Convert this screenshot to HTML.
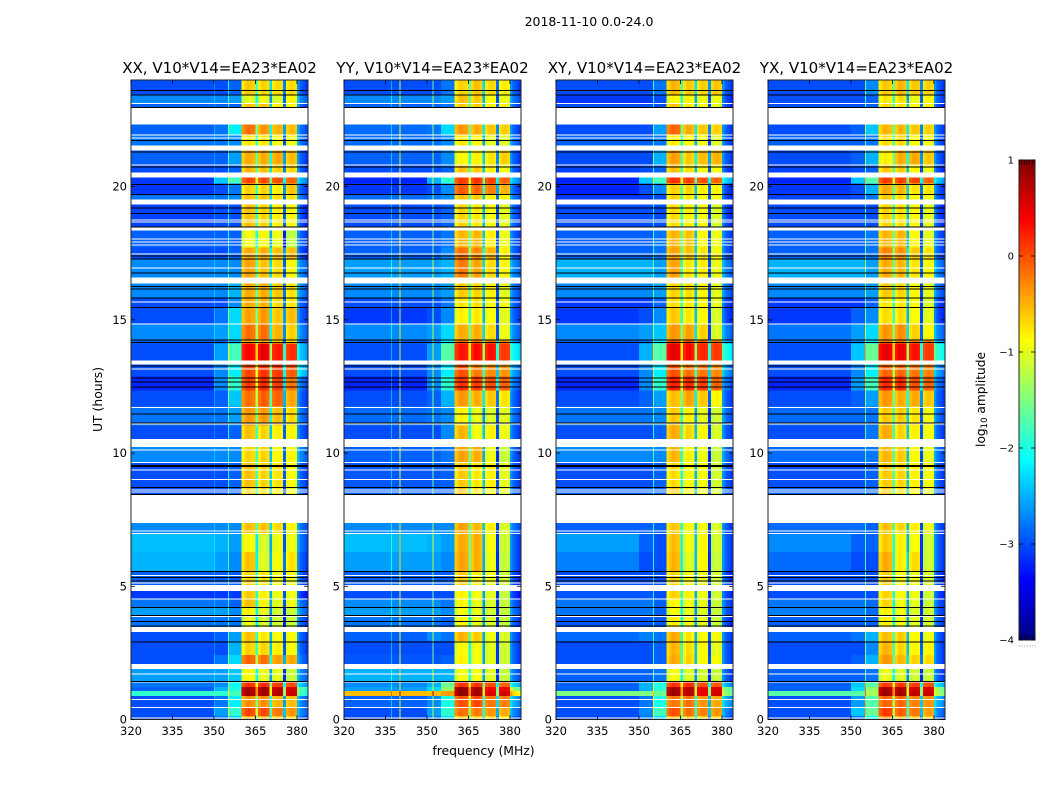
<!DOCTYPE html>
<html lang="en">
<head>
<meta charset="utf-8">
<title>2018-11-10 0.0-24.0</title>
<style>
html,body{margin:0;padding:0;background:#fff;}
svg{display:block;font-family:"DejaVu Sans","Liberation Sans",sans-serif;fill:#000;}
</style>
</head>
<body>
<svg id="chart" xmlns="http://www.w3.org/2000/svg" width="1050" height="800" viewBox="0 0 1050 800">
<rect x="0" y="0" width="1050" height="800" fill="#fff"/>
<text x="589" y="26" font-size="12.500" text-anchor="middle">2018-11-10 0.0-24.0</text>
<text x="483.500" y="755" font-size="12.400" text-anchor="middle">frequency (MHz)</text>
<text x="0" y="0" font-size="12.400" text-anchor="middle" transform="translate(102,399.500) rotate(-90)">UT (hours)</text>
<text x="0" y="0" font-size="12.200" text-anchor="middle" transform="translate(985,399.500) rotate(-90)">log<tspan font-size="8.500" dy="2">10</tspan><tspan dy="-2"> amplitude</tspan></text>
<g id="panels"></g>
<g id="colorbar"></g>
</svg>
<script>
// ---------- shared axes data ----------
const xTicks = [320, 335, 350, 365, 380];
const yTicks = [0, 5, 10, 15, 20];
const colorbarTicks = [1, 0, -1, -2, -3, -4];
const colorbarMinorTicks = [0, 1, 2, 3, 4, 5, 6];

// UT hour boundaries of the time bands (top to bottom)
const utBandEdges = [24,23.45,23.12,22.33,21.95,21.35,20.83,20.34,20.12,19.70,19.33,18.35,17.72,17.30,16.37,15.84,15.47,14.87,14.27,14.12,13.33,12.88,12.35,11.75,11.04,10.25,9.66,8.72,7.37,6.96,6.28,5.57,4.82,4.52,4.22,3.92,3.28,2.94,2.42,1.89,1.41,1.22,1.07,0.88,0.47,0.13,0];

// Flagged (blank) UT ranges, and single-row flagged / saturated lines
const blankBandStart = [22.97,21.54,20.53,19.52,18.47,16.59,13.48,10.52,8.46,5.04,3.47,2.08];
const blankBandEnd = [22.33,21.35,20.34,19.33,18.35,16.37,13.33,10.25,7.37,4.82,3.28,1.89];
const whiteLines = [23.13,21.95,21.85,20.83,18.77,18.69,18.05,17.94,17.83,17.49,16.97,15.69,14.86,13.18,11.73,11.10,10.27,10.14,9.66,9.39,9.03,8.64,8.56,7.10,6.99,5.42,5.14,4.54,3.89,3.47,3.36,1.73,1.42,0.76,0.46,0.08];
const blackLines = [23.63,23.45,22.99,21.75,21.32,20.76,20.10,19.73,19.22,19.0,18.5,17.42,17.30,16.78,16.27,16.18,15.84,15.48,14.27,14.16,13.29,12.84,12.69,12.5,11.48,11.15,9.55,9.52,8.72,8.46,5.58,5.34,5.21,4.22,3.93,3.70,3.53,2.93,1.45];

// Channel offset (log10) across the 64 one-MHz channels, 320..383 MHz
const bandpass = [0,0,0,0,0,0,0,0,0,0,0,0,0,0,0,0,0,0,0,0,0,0,0,0,0,0,0,0,0,0,0,0,0,0,0,0,0,0,0,0,
  -0.25,-0.1,-0.03,-0.08,-0.12,-1.2,-0.2,-0.05,-0.05,-0.15,-1.7,-0.2,-0.1,-0.08,-0.15,-2.2,-0.25,-0.15,-0.12,-0.2,
  0.35,0.1,0,-0.1];

// Values per band: [320-350, 350-355, 355-360, 360-365, 365-370, 370-375, 375-380, 380-384 MHz]
const xxRows = [
[-3,-3,-2.9,-.55,-.6,-.6,-.55,-3],[-2.7,-2.7,-2.6,-.95,-.85,-.95,-.7,-2.8],[-2.9,-2.9,-2.9,-.5,-.5,-.7,-.7,-3],
[-2.9,-2.8,-2.2,-.1,-.3,-.4,-.4,-2.9],[-2.8,-2.8,-2.7,-.7,-.7,-.8,-.8,-2.9],[-2.9,-2.9,-2.6,-.4,-.4,-.35,-.4,-3],
[-3,-3,-2.9,-.45,-.5,-.55,-.55,-3],[-3.1,-2.4,-1.8,.1,.1,.1,.05,-2.6],[-3.1,-3,-2.8,-.6,-.6,-.7,-.45,-3],
[-2.8,-2.8,-2.7,-.5,-.5,-.6,-.6,-2.9],[-3.05,-3,-3,-.5,-.6,-.7,-.7,-3.1],[-2.9,-2.9,-2.9,-.85,-.8,-.85,-1.05,-3],
[-3,-3,-2.9,-.4,-.4,-.45,-.4,-3.1],[-2.7,-2.7,-2.7,-.35,-.5,-.6,-.7,-2.8],[-2.7,-2.7,-2.5,-.4,-.4,-.5,-.6,-2.8],
[-3,-3,-2.7,-.4,-.4,-.6,-.6,-3],[-3,-2.8,-2.3,-.35,-.3,-.5,-.4,-3],[-2.7,-2.6,-2.3,-.1,-.1,-.4,-.5,-2.8],
[-2.9,-2.9,-2.5,-.4,-.4,-.5,-.6,-2.9],[-3,-2.6,-1.8,.45,.55,.35,.3,-2.5],[-3,-2.7,-2.2,.1,.2,.2,.1,-2.4],
[-3.2,-2.7,-1.9,.15,.25,.2,-.05,-2.9],[-3,-2.9,-2.4,-.1,0,0,-.3,-3],[-2.8,-2.8,-2.6,-.3,-.3,-.45,-.55,-2.9],
[-3,-3,-2.9,-.5,-.6,-.7,-.7,-3],[-2.7,-2.7,-2.7,-.6,-.6,-.75,-.7,-2.8],[-3,-3,-2.9,-.5,-.6,-.65,-.75,-3],
[-3,-3,-2.9,-.6,-.65,-.7,-.8,-3],[-2.7,-2.7,-2.7,-.5,-.5,-.6,-.7,-2.9],[-2.45,-2.5,-2.6,-.8,-1,-.85,-.8,-2.9],
[-2.5,-2.6,-2.7,-.5,-.95,-.8,-.6,-3],[-2.9,-2.9,-2.9,-.6,-.7,-.8,-.8,-3],[-3.1,-3.1,-3.1,-.55,-.75,-.85,-.8,-3.2],
[-2.8,-2.8,-2.9,-.5,-.8,-.9,-.8,-2.9],[-2.6,-2.6,-2.7,-.75,-.9,-1,-1,-2.8],[-2.8,-2.8,-2.8,-.9,-1,-1,-1,-3],
[-3,-2.9,-2.6,-.5,-.7,-.8,-.75,-3],[-3,-3,-2.5,-.6,-.6,-.7,-.75,-3],[-3,-2.8,-2.3,-.05,-.1,-.3,-.3,-2.9],
[-2.6,-2.6,-2.4,-.8,-.9,-.9,-1,-2.8],[-2.8,-2.7,-2.1,.2,.25,.2,.15,-2.5],[-2.9,-2.5,-2,.85,.9,.8,.75,-1.8],
[-1.9,-1.9,-1.8,.9,.9,.85,.8,-1.9],[-3,-2.8,-2.2,-.25,-.25,-.4,-.4,-2.8],[-3,-2.6,-1.9,.1,.1,-.1,-.2,-2.8],
[-3,-2.8,-2.4,-.4,-.4,-.5,-.5,-3]];
const yyRows = [
[-3,-3,-2.8,-.6,-.5,-.6,-.65,-3],[-2.7,-2.7,-2.6,-.5,-.55,-.8,-.8,-2.9],[-2.9,-2.9,-2.8,-.55,-.55,-.7,-.7,-3],
[-2.85,-2.8,-2.3,-.3,-.4,-.5,-.5,-3],[-2.85,-2.85,-2.7,-.7,-.8,-.9,-.9,-2.9],[-2.9,-2.9,-2.7,-.8,-.75,-.65,-.5,-3],
[-3,-3,-2.9,-.5,-.55,-.7,-.75,-3],[-3.2,-2.5,-1.9,.15,.2,.15,.05,-2.6],[-3.1,-3,-2.7,.0,-.05,-.15,-.35,-3],
[-2.85,-2.8,-2.7,-.5,-.55,-.7,-.7,-2.9],[-3,-3,-2.9,-.6,-.7,-.8,-.85,-3],[-2.9,-2.9,-2.8,-.45,-.45,-.7,-.8,-3],
[-2.9,-2.9,-2.7,-.1,-.2,-.4,-.65,-3],[-2.6,-2.6,-2.5,-.15,-.35,-.6,-.7,-2.8],[-2.7,-2.7,-2.6,-.55,-.6,-.7,-.85,-2.9],
[-3,-3,-2.8,-.7,-.65,-.8,-.8,-3],[-3.1,-3,-2.7,-.75,-.7,-.8,-.85,-3],[-2.7,-2.6,-2.3,-.4,-.4,-.6,-.8,-2.8],
[-2.9,-2.8,-2.2,-.1,-.1,-.1,-.15,-2.7],[-3,-2.6,-1.7,.35,.4,.4,.25,-2.2],[-3,-2.7,-2.2,.05,-.15,-.2,-.2,-2.7],
[-3.2,-2.7,-1.9,.2,.15,.1,.05,-2.9],[-3,-2.9,-2.5,-.3,-.4,-.5,-.6,-3],[-2.85,-2.8,-2.7,-.75,-.9,-.95,-.85,-2.9],
[-3,-3,-2.7,-.45,-.85,-.7,-.8,-3],[-2.9,-2.9,-2.8,-.35,-.4,-.85,-1,-3],[-2.95,-2.95,-2.9,-.55,-.7,-.7,-.85,-3],
[-2.9,-2.9,-2.9,-.5,-.7,-.75,-.85,-3],[-2.7,-2.7,-2.7,-.35,-.45,-.7,-.9,-2.9],[-2.45,-2.5,-2.6,-.4,-.4,-.8,-.95,-3],
[-2.6,-2.6,-2.7,-.35,-.4,-.85,-1,-3],[-2.9,-2.9,-2.9,-.55,-.75,-.85,-.95,-3.1],[-3,-3,-3,-.75,-.85,-.9,-1,-3.2],
[-2.7,-2.7,-2.8,-.8,-.9,-.95,-1,-3],[-2.6,-2.6,-2.7,-.85,-.9,-1,-1,-2.9],[-2.8,-2.8,-2.9,-.8,-.9,-.95,-1,-3],
[-2.9,-2.7,-2.8,-.45,-.55,-.85,-.9,-3],[-3,-3,-3,-.8,-.85,-.9,-.95,-3],[-2.95,-2.95,-2.9,-.75,-.85,-.9,-.95,-3],
[-2.5,-2.5,-2.5,-.85,-.85,-.9,-1,-2.9],[-2.7,-2.5,-1.6,.2,.2,.1,.05,-2.4],[-2.6,-2.3,-1.4,.95,.85,.5,.6,-1.5],
[-.55,-.55,-.4,.95,.9,.65,.75,-.8],[-2.9,-2.7,-2,.05,.1,-.1,-.1,-2.6],[-3,-2.6,-1.9,-.1,-.15,-.25,-.3,-2.8],
[-3,-2.8,-2.3,-.5,-.5,-.55,-.6,-3]];
const xyRows = [
[-3,-3,-2.8,-.45,-.55,-.55,-.45,-3],[-3.1,-3.1,-3,-.8,-.75,-.85,-.8,-3.1],[-3,-3,-3,-.5,-.7,-.8,-.85,-3.1],
[-3,-3,-2.6,-.05,-.4,-.5,-.5,-3],[-2.9,-2.9,-2.8,-.75,-.8,-.85,-.9,-3],[-3,-3,-2.5,-.35,-.55,-.45,-.35,-3],
[-3.05,-3,-2.9,-.5,-.65,-.75,-.75,-3.1],[-3.2,-2.4,-1.8,.2,.15,.1,.05,-2.4],[-3.2,-3,-2.7,-.6,-.6,-.7,-.7,-3.1],
[-3.1,-3.1,-3,-.6,-.7,-.8,-.8,-3.1],[-3,-3,-3,-.65,-.75,-.8,-.9,-3.1],[-2.9,-2.9,-2.8,-.45,-.5,-.75,-.8,-3],
[-2.9,-2.9,-2.8,-.35,-.5,-.65,-.75,-3],[-2.5,-2.5,-2.6,-.35,-.7,-.7,-.8,-2.8],[-2.7,-2.7,-2.6,-.6,-.65,-.75,-.85,-2.9],
[-3.1,-3.1,-2.9,-.65,-.7,-.75,-.85,-3.1],[-3.1,-3,-2.7,-.55,-.7,-.75,-.9,-3.1],[-2.7,-2.6,-2.4,-.3,-.35,-.55,-.9,-2.8],
[-2.9,-2.8,-2.2,.05,.05,.0,-.05,-2.6],[-3,-2.5,-1.7,.55,.4,.3,.25,-2.1],[-3,-2.7,-2.2,.05,-.1,-.1,-.15,-2.7],
[-3.2,-2.7,-1.9,.3,.25,.2,.05,-2.9],[-3,-2.9,-2.6,-.5,-.35,-.5,-.7,-3],[-2.8,-2.8,-2.7,-.55,-.75,-.9,-.95,-2.9],
[-3,-3,-2.9,-.4,-.6,-.75,-.9,-3],[-2.7,-2.7,-2.7,-.45,-.75,-.85,-1,-2.9],[-3,-3,-2.9,-.65,-.8,-.8,-.95,-3],
[-2.9,-2.9,-2.9,-.55,-.75,-.85,-.9,-3],[-2.9,-2.9,-2.9,-.55,-.8,-.8,-.9,-3],[-2.6,-2.9,-3,-.5,-.85,-.75,-.95,-3],
[-2.75,-3,-3,-.45,-.95,-.75,-1,-3],[-3,-3,-3,-.6,-.8,-.85,-.95,-3.1],[-2.95,-2.95,-3,-.6,-.75,-.85,-.95,-3.1],
[-2.8,-2.8,-2.9,-.8,-.85,-.9,-1,-3],[-2.8,-2.8,-2.9,-.85,-.9,-.95,-1,-3],[-2.95,-2.95,-2.95,-.75,-.85,-.9,-1,-3.1],
[-2.85,-2.75,-2.8,-.4,-.7,-.8,-.75,-3],[-3,-3,-2.9,-.45,-.65,-.75,-.85,-3],[-3,-3,-2.9,-.4,-.6,-.75,-.75,-3],
[-2.9,-2.9,-2.8,-.85,-.95,-1,-1,-3],[-2.9,-2.5,-2,.2,.25,.1,.1,-2.6],[-2.9,-2.5,-1.9,.85,.8,.6,.7,-1.6],
[-1.5,-1.5,-1.6,.9,.8,.6,.75,-1.5],[-3,-2.8,-2,-.15,-.1,-.25,-.3,-2.6],[-3,-2.7,-1.8,.05,-.1,-.15,-.2,-2.8],
[-3,-2.8,-2.3,-.4,-.45,-.5,-.5,-3]];
const yxRows = [
[-3,-3,-2.7,-.55,-.45,-.5,-.5,-3],[-3,-3,-2.9,-.7,-.65,-.85,-.7,-3],[-3,-3,-2.9,-.6,-.65,-.75,-.65,-3.1],
[-3,-2.9,-2.4,-.45,-.45,-.5,-.5,-3],[-2.9,-2.9,-2.8,-.65,-.6,-.75,-.75,-3],[-3,-2.9,-2.5,-.75,-.4,-.35,-.45,-3],
[-3.05,-3,-2.9,-.55,-.55,-.75,-.8,-3.1],[-3.2,-2.4,-1.7,.15,.15,.15,.05,-2.5],[-3.1,-3,-2.5,-.4,-.45,-.65,-.6,-3],
[-3.05,-3,-2.8,-.55,-.65,-.75,-.75,-3],[-3,-3,-3,-.6,-.65,-.75,-.85,-3.1],[-2.9,-2.9,-2.8,-.45,-.45,-.75,-.85,-3],
[-2.9,-2.9,-2.8,-.2,-.25,-.5,-.6,-3],[-2.5,-2.5,-2.6,-.4,-.45,-.65,-.7,-2.8],[-2.7,-2.7,-2.6,-.55,-.6,-.75,-.85,-2.9],
[-3.1,-3.1,-2.9,-.7,-.7,-.8,-.9,-3.1],[-3.1,-2.9,-2.7,-.65,-.65,-.8,-.85,-3.1],[-2.8,-2.6,-2.3,-.3,-.25,-.55,-.7,-2.8],
[-2.9,-2.7,-2.2,-.15,-.1,-.1,-.1,-2.6],[-3,-2.4,-1.6,.55,.5,.4,.25,-2],[-3,-2.7,-2.2,-.05,-.05,-.1,-.1,-2.7],
[-3.2,-2.6,-1.8,.25,.25,.1,.05,-2.9],[-3,-2.9,-2.6,-.3,-.4,-.35,-.45,-3],[-2.85,-2.85,-2.8,-.55,-.55,-.65,-.75,-2.9],
[-3,-3,-2.8,-.4,-.6,-.7,-.75,-3],[-2.85,-2.85,-2.8,-.45,-.55,-.75,-.8,-2.9],[-3,-3,-2.9,-.55,-.6,-.7,-.75,-3],
[-2.9,-2.9,-2.9,-.55,-.65,-.75,-.85,-3],[-2.85,-2.85,-2.9,-.5,-.6,-.7,-.8,-3],[-2.7,-2.9,-2.9,-.55,-.75,-.8,-.95,-3],
[-2.85,-3,-3,-.4,-.75,-.6,-.95,-3],[-3,-3,-3,-.55,-.8,-.85,-.9,-3.1],[-3,-3,-3,-.6,-.8,-.85,-.95,-3.1],
[-2.8,-2.8,-2.85,-.6,-.85,-.9,-1,-3],[-2.75,-2.75,-2.85,-.75,-.85,-.95,-.95,-3],[-2.9,-2.9,-2.9,-.75,-.85,-.9,-.95,-3],
[-2.9,-2.8,-2.5,-.5,-.55,-.75,-.8,-3],[-3,-3,-2.7,-.45,-.6,-.75,-.7,-3],[-3,-2.9,-2.5,-.3,-.45,-.55,-.55,-3],
[-2.9,-2.9,-2.8,-.9,-.95,-1,-1,-3],[-2.9,-2.4,-1.7,.15,.2,.2,.15,-2.4],[-2.9,-2.3,-1.4,.85,.85,.7,.7,-1.5],
[-1.7,-1.7,-1.3,.9,.9,.8,.8,-1.4],[-3,-2.6,-1.7,-.05,-.05,-.15,-.2,-2.6],[-3,-2.4,-1.6,.15,0,-.1,-.25,-2.8],
[-3,-2.8,-2.1,-.2,-.4,-.45,-.5,-3]];

// Narrow-band interference: channel index and offset, per panel
const xxSpikeChannels = [30, 35];
const xxSpikeOffsets = [0.3, 0.9];
const yySpikeChannels = [17, 20, 32];
const yySpikeOffsets = [0.5, 1.9, 1.4];
const xySpikeChannels = [35];
const xySpikeOffsets = [1.0];
const yxSpikeChannels = [35];
const yxSpikeOffsets = [1.2];

const panelTitles = ["XX, V10*V14=EA23*EA02", "YY, V10*V14=EA23*EA02", "XY, V10*V14=EA23*EA02", "YX, V10*V14=EA23*EA02"];
const panelKeys = ["xx", "yy", "xy", "yx"];

// ---------- layout and scales ----------
const panelLefts = [131, 344, 556, 768];
const panelWidth = 177, plotTop = 80, plotBottom = 719.5;
const cbLeft = 1019, cbWidth = 16, cbTop = 160, cbBottom = 640;
const freqMin = 320, freqMax = 384, utMax = 24, vMin = -4, vMax = 1;
const NS = "http://www.w3.org/2000/svg";

function xScale(left, f) { return left + (f - freqMin) / (freqMax - freqMin) * panelWidth; }
function yScale(h) { return plotBottom - h / utMax * (plotBottom - plotTop); }
function cbScale(v) { return cbBottom - (v - vMin) / (vMax - vMin) * (cbBottom - cbTop); }
function jet(v) {
  const t = Math.max(0, Math.min(1, (v - vMin) / (vMax - vMin)));
  const c = k => Math.round(255 * Math.max(0, Math.min(1, 1.5 - Math.abs(4 * t - k))));
  return "rgb(" + c(3) + "," + c(2) + "," + c(1) + ")";
}
function region(ch) {
  if (ch < 30) return 0;
  if (ch < 35) return 1;
  if (ch < 40) return 2;
  if (ch < 45) return 3;
  if (ch < 50) return 4;
  if (ch < 55) return 5;
  if (ch < 60) return 6;
  return 7;
}
function make(tag, attrs, parent) {
  const el = document.createElementNS(NS, tag);
  for (const k in attrs) el.setAttribute(k, attrs[k]);
  parent.appendChild(el);
  return el;
}

const rowsByPanel = [xxRows, yyRows, xyRows, yxRows];
const spikeChannelsByPanel = [xxSpikeChannels, yySpikeChannels, xySpikeChannels, yxSpikeChannels];
const spikeOffsetsByPanel = [xxSpikeOffsets, yySpikeOffsets, xySpikeOffsets, yxSpikeOffsets];
const panelsRoot = document.getElementById("panels");

panelLefts.forEach(function (left, p) {
  const g = make("g", {}, panelsRoot);
  
  

  // heatmap cells
  rowsByPanel[p].forEach(function (row, r) {
    const y0 = yScale(utBandEdges[r]), y1 = yScale(utBandEdges[r + 1]);
    bandpass.forEach(function (offset, ch) {
      const v = row[region(ch)] + offset;
      const x0 = xScale(left, freqMin + ch), x1 = xScale(left, freqMin + ch + 1);
      const cell = make("rect", { x: x0, y: y0, width: x1 - x0, height: y1 - y0, fill: jet(v), "shape-rendering": "crispEdges" }, g);
      
      
    });
    // narrow interference lines, one pixel wide
    spikeChannelsByPanel[p].forEach(function (ch, s) {
      const v = row[region(ch)] + spikeOffsetsByPanel[p][s];
      const spike = make("rect", { x: xScale(left, freqMin + ch), y: y0, width: 1, height: y1 - y0, fill: jet(v), "shape-rendering": "crispEdges" }, g);
      
      
    });
  });

  // blank bands and single-row lines
  blankBandStart.forEach(function (h, i) {
    const y0 = yScale(h), y1 = yScale(blankBandEnd[i]);
    const band = make("rect", { x: left, y: y0, width: panelWidth, height: y1 - y0, fill: "#fff", "shape-rendering": "crispEdges" }, g);
    
    
  });
  whiteLines.forEach(function (h) {
    const line = make("rect", { x: left, y: yScale(h), width: panelWidth, height: 1, fill: "#fff", "shape-rendering": "crispEdges" }, g);
    
    
  });
  blackLines.forEach(function (h) {
    const line = make("rect", { x: left, y: yScale(h), width: panelWidth, height: 1, fill: "#000", "shape-rendering": "crispEdges" }, g);
    
    
  });

  // frame
  const frame = make("rect", { x: left, y: plotTop, width: panelWidth, height: plotBottom - plotTop, fill: "none", stroke: "#222", "stroke-width": 1 }, g);
  
  

  // x ticks
  xTicks.forEach(function (f) {
    const x = xScale(left, f);
    const tickB = make("line", { x1: x, x2: x, y1: plotBottom, y2: plotBottom - 4, stroke: "#000", "stroke-width": 0.8 }, g);
    
    
    const tickT = make("line", { x1: x, x2: x, y1: plotTop, y2: plotTop + 4, stroke: "#000", "stroke-width": 0.8 }, g);
    
    
    const label = make("text", { x: x, y: 735, "font-size": 11.5, "text-anchor": "middle" }, g);
    
    
    label.textContent = f;
  });

  // y ticks
  yTicks.forEach(function (h) {
    const y = yScale(h);
    const tickL = make("line", { x1: left, x2: left + 4, y1: y, y2: y, stroke: "#000", "stroke-width": 0.8 }, g);
    
    
    const tickR = make("line", { x1: left + panelWidth, x2: left + panelWidth - 4, y1: y, y2: y, stroke: "#000", "stroke-width": 0.8 }, g);
    
    
    const label = make("text", { x: left - 4, y: y + 4, "font-size": 11.5, "text-anchor": "end" }, g);
    
    
    label.textContent = h;
  });

  // title
  const title = make("text", { x: left + panelWidth / 2, y: 73, "font-size": 15.05, "text-anchor": "middle" }, g);
  
  
  title.textContent = panelTitles[p];
});

// ---------- colorbar ----------
const cb = document.getElementById("colorbar");
for (let i = 0; i < 240; i++) {
  const vTop = vMax - i / 240 * (vMax - vMin);
  const vBot = vMax - (i + 1) / 240 * (vMax - vMin);
  const step = make("rect", { x: cbLeft, y: cbScale(vTop), width: cbWidth, height: cbScale(vBot) - cbScale(vTop), fill: jet((vTop + vBot) / 2), "shape-rendering": "crispEdges" }, cb);
  
  
}
const cbFrame = make("rect", { x: cbLeft, y: cbTop, width: cbWidth, height: cbBottom - cbTop, fill: "none", stroke: "#222", "stroke-width": 1 }, cb);


colorbarTicks.forEach(function (v) {
  const y = cbScale(v);
  const tl = make("line", { x1: cbLeft, x2: cbLeft + 4, y1: y, y2: y, stroke: "#000", "stroke-width": 0.8 }, cb);
  
  
  const tr = make("line", { x1: cbLeft + cbWidth, x2: cbLeft + cbWidth - 4, y1: y, y2: y, stroke: "#000", "stroke-width": 0.8 }, cb);
  
  
  const label = make("text", { x: cbLeft - 5, y: y + 3.500, "font-size": 10, "text-anchor": "end" }, cb);
  
  
  label.textContent = v < 0 ? "\u2212" + Math.abs(v) : String(v);
});
colorbarMinorTicks.forEach(function (m) {
  const x = cbLeft + m * cbWidth / 6;
  const top = make("line", { x1: x, x2: x, y1: cbTop, y2: cbTop + 5, stroke: "#000", "stroke-width": 0.6 }, cb);
  
  
  const bot = make("line", { x1: x, x2: x, y1: cbBottom, y2: cbBottom - 5, stroke: "#000", "stroke-width": 0.6 }, cb);
  
  
  const dot = make("rect", { x: x, y: 645.500, width: 1, height: 1, fill: "#999" }, cb);
  
  
});
</script>
</body>
</html>
